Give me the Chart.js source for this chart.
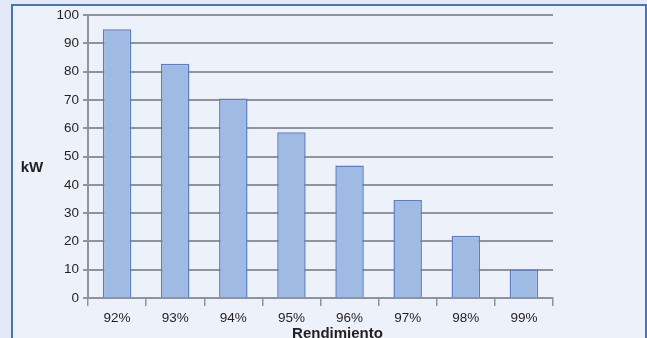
<!DOCTYPE html>
<html>
<head>
<meta charset="utf-8">
<script src="https://cdn.jsdelivr.net/npm/chart.js@4/dist/chart.umd.min.js"></script>
<style>
  html, body { margin: 0; padding: 0; background: #e3e9f6; overflow: hidden; }
  #frame {
    position: absolute; left: 11px; top: 4px; width: 632px; height: 360px;
    border: 2px solid #4a72b8; background: #edf1fa;
  }
  #wrap { position: absolute; left: 0; top: 0; width: 647px; height: 338px; }
</style>
</head>
<body>
<div id="frame"></div>
<div id="wrap"><canvas id="chart" width="647" height="338"></canvas></div>
<script>
const categories = ['92%', '93%', '94%', '95%', '96%', '97%', '98%', '99%'];
const power = [95, 82.8, 70.5, 58.6, 46.8, 34.6, 22, 10];
const yTicks = [0, 10, 20, 30, 40, 50, 60, 70, 80, 90, 100];

const gridGrey = '#8f939c';
const textColor = '#231f20';

// axis titles: "kW" stays horizontal, so draw them by hand
const axisTitles = {
  id: 'axisTitles',
  afterDraw(chart) {
    const ctx = chart.ctx;
    const area = chart.chartArea;
    ctx.save();
    ctx.fillStyle = textColor;
    ctx.font = 'bold 15px "Liberation Sans", Arial, sans-serif';
    ctx.textAlign = 'center';
    ctx.textBaseline = 'middle';
    ctx.fillText('kW', 32, 168);
    ctx.textBaseline = 'alphabetic';
    ctx.fillText('Rendimiento', (area.left + area.right) / 2 + 17, 338);
    ctx.restore();
  }
};

new Chart(document.getElementById('chart'), {
  type: 'bar',
  data: {
    labels: categories,
    datasets: [{
      data: power,
      backgroundColor: '#9fbbe3',
      borderColor: '#5a7ec6',
      borderWidth: 1.5,
      barPercentage: 0.49,
      categoryPercentage: 1
    }]
  },
  options: {
    responsive: false,
    animation: false,
    layout: { padding: { left: 0, top: 15, right: 94, bottom: 0 } },
    plugins: { legend: { display: false }, tooltip: { enabled: false } },
    scales: {
      x: {
        grid: {
          offset: true, drawOnChartArea: false, drawTicks: true,
          tickLength: 8, color: gridGrey, lineWidth: 1.5
        },
        border: { color: gridGrey, width: 2 },
        ticks: {
          color: textColor, padding: 4,
          font: { family: '"Liberation Sans", Arial, sans-serif', size: 13.5 }
        },
        afterFit(scale) { scale.height = 40; }
      },
      y: {
        min: 0, max: 100,
        afterBuildTicks(scale) { scale.ticks = yTicks.map(v => ({ value: v })); },
        grid: { color: gridGrey, lineWidth: 2, tickLength: 5 },
        border: { color: gridGrey, width: 2 },
        ticks: {
          color: textColor, padding: 4,
          font: { family: '"Liberation Sans", Arial, sans-serif', size: 13.5 }
        },
        afterFit(scale) { scale.width = 88; }
      }
    }
  },
  plugins: [axisTitles]
});
</script>
</body>
</html>
